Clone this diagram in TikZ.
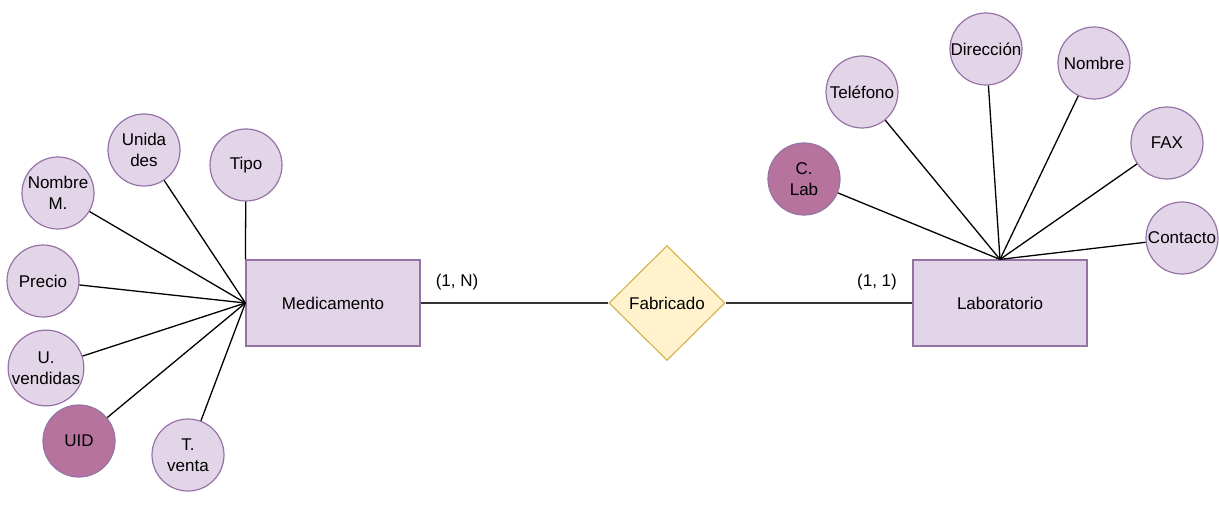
\documentclass[tikz,border=0pt]{standalone}
\usepackage{fontspec}
\setmainfont{Liberation Sans}
\usetikzlibrary{shapes.geometric}
\definecolor{attrfill}{HTML}{E1D5E7}
\definecolor{attrdraw}{HTML}{9673A6}
\definecolor{keyfill}{HTML}{B5739D}
\definecolor{relfill}{HTML}{FFF2CC}
\definecolor{reldraw}{HTML}{D6B656}
\definecolor{linkcol}{HTML}{333333}
\tikzset{
  txt/.style={font=\fontsize{17}{21.5}\selectfont},
  attr/.style={circle, draw=attrdraw, fill=attrfill, line width=1.2pt, minimum size=72pt, inner sep=0pt, align=center, txt},
  keyattr/.style={attr, fill=keyfill},
  entity/.style={rectangle, draw=attrdraw, fill=attrfill, line width=1.2pt, minimum width=174pt, minimum height=86pt, txt},
  rel/.style={diamond, draw=reldraw, fill=relfill, line width=1.2pt, minimum width=116pt, minimum height=115pt, inner sep=0pt, txt},
  attrline/.style={line width=1.3pt, black},
  relline/.style={line width=1.6pt, linkcol},
  card/.style={txt}
}
\begin{document}
\begin{tikzpicture}[x=1pt,y=-1pt]
\useasboundingbox (0,0) rectangle (1219,516);
% entities
\node[entity] (med) at (333,303) {Medicamento};
\node[entity] (lab) at (1000,303) {Laboratorio};
\node[rel] (fab) at (667,303) {Fabricado};
\coordinate (medw) at (med.west);
\coordinate (labn) at (lab.north);
% Medicamento attributes
\node[attr] (unid) at (144,150) {Unida\\des};
\node[attr] (tipo) at (246,165) {Tipo};
\node[attr] (nomm) at (58,193) {Nombre\\M.};
\node[attr] (prec) at (43,281) {Precio};
\node[attr] (uven) at (46,368) {U.\\vendidas};
\node[keyattr] (uid) at (79,441) {UID};
\node[attr] (tven) at (188,455) {T.\\venta};
% Laboratorio attributes
\node[keyattr] (clab) at (804,179) {C.\\Lab};
\node[attr] (tel) at (862,92) {Teléfono};
\node[attr] (dir) at (986,49) {Dirección};
\node[attr] (nom) at (1094,63) {Nombre};
\node[attr] (fax) at (1167,143) {FAX};
\node[attr] (cont) at (1182,238) {Contacto};
% connectors
\draw[attrline] (unid) -- (medw);
\draw[attrline] (tipo) -- (med.north west);
\draw[attrline] (nomm) -- (medw);
\draw[attrline] (prec) -- (medw);
\draw[attrline] (uven) -- (medw);
\draw[attrline] (uid) -- (medw);
\draw[attrline] (tven) -- (medw);
\draw[attrline] (clab) -- (labn);
\draw[attrline] (tel) -- (labn);
\draw[attrline] (dir) -- (labn);
\draw[attrline] (nom) -- (labn);
\draw[attrline] (fax) -- (labn);
\draw[attrline] (cont) -- (labn);
\draw[relline] (med) -- (fab);
\draw[relline] (fab) -- (lab);
\node[card] (c1) at (457,282) {(1, N)};
\node[card] (c2) at (877,282) {(1, 1)};
\end{tikzpicture}
\end{document}
